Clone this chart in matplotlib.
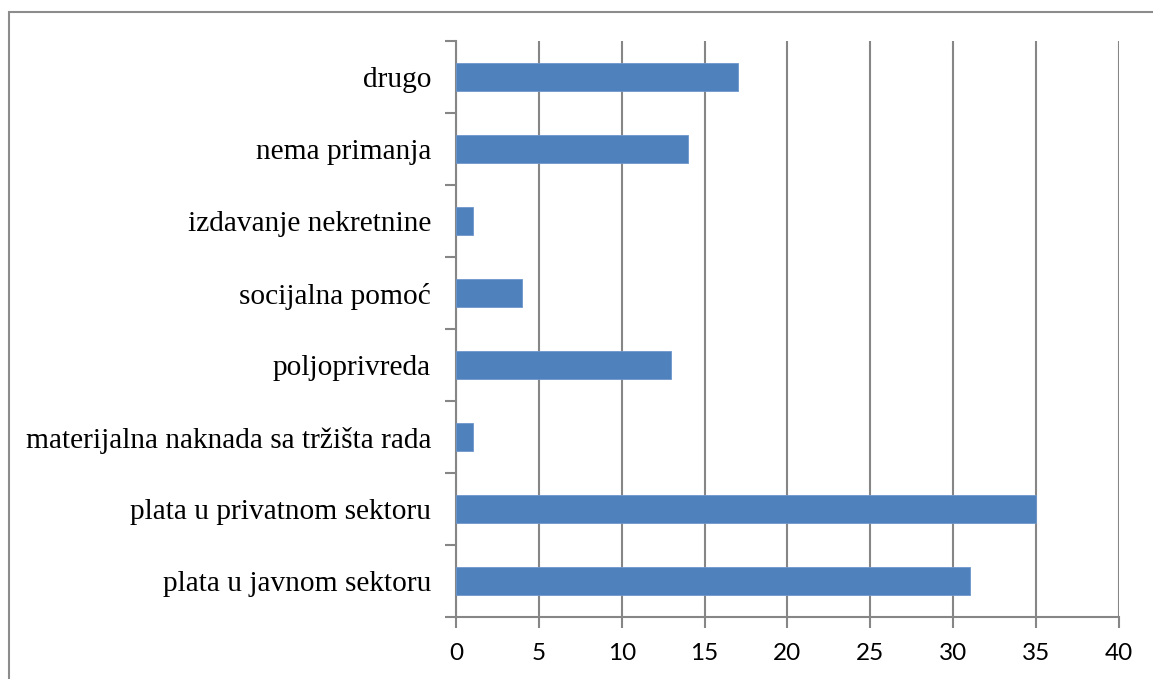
import matplotlib
matplotlib.use("Agg")
import matplotlib.pyplot as plt
from matplotlib.patches import Rectangle

categories = [
    "plata u javnom sektoru",
    "plata u privatnom sektoru",
    "materijalna naknada sa tržišta rada",
    "poljoprivreda",
    "socijalna pomoć",
    "izdavanje nekretnine",
    "nema primanja",
    "drugo",
]
values = [31, 35, 1, 13, 4, 1, 14, 17]
x_ticks = [0, 5, 10, 15, 20, 25, 30, 35, 40]

bar_color = "#4F81BD"
grid_color = "#868686"

fig = plt.figure(figsize=(11.53, 6.79), dpi=100)
ax = fig.add_axes([0.3955, 0.0913, 0.5750, 0.8483])

# outer chart frame
fig.patches.append(Rectangle((9 / 1153, -0.05), 1.2, 1 - 12 / 679 + 0.05,
                             transform=fig.transFigure, fill=False,
                             edgecolor="#8C8C8C", linewidth=1.5))

pos = list(range(len(categories)))
ax.barh(pos, values, height=0.4, color=bar_color, edgecolor="#6E97CC",
        linewidth=0.6, zorder=3)

ax.set_xlim(0, 40)
ax.set_ylim(-0.5, len(categories) - 0.5)
ax.set_xticks(x_ticks)
ax.set_xticklabels([str(t) for t in x_ticks], fontsize=17.5, family="Lato")

# category labels at band centres, tick marks at band boundaries
ax.set_yticks(pos)
ax.set_yticklabels(categories, fontsize=21.2, family="Liberation Serif")
ax.tick_params(axis="y", which="major", length=0, pad=18)
ax.set_yticks([p - 0.5 for p in range(len(categories) + 1)], minor=True)
ax.tick_params(axis="y", which="minor", length=8, width=1.5, color=grid_color)
ax.tick_params(axis="x", length=8, width=1.5, color=grid_color, pad=11)

ax.xaxis.grid(True, color=grid_color, linewidth=1.5, zorder=0)
ax.set_axisbelow(True)
for side in ("top", "right"):
    ax.spines[side].set_visible(False)
for side in ("left", "bottom"):
    ax.spines[side].set_color(grid_color)
    ax.spines[side].set_linewidth(1.5)

fig.savefig("out.png", dpi=100)
